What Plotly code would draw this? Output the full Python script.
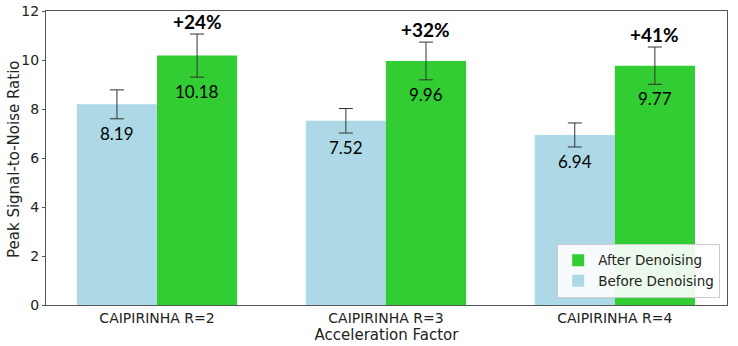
import plotly.graph_objects as go

categories = ["CAIPIRINHA R=2", "CAIPIRINHA R=3", "CAIPIRINHA R=4"]
before_vals = [8.19, 7.52, 6.94]
after_vals = [10.18, 9.96, 9.77]
before_err = [0.59, 0.50, 0.49]
after_err = [0.88, 0.77, 0.76]
improve_labels = ["+24%", "+32%", "+41%"]
y_ticks = [0, 2, 4, 6, 8, 10, 12]

BLUE = "#add8e6"
GREEN = "#32cd32"
FONT = "DejaVu Sans"
AFONT = "Lato"

xi = list(range(len(categories)))
w = 0.35

fig = go.Figure()
fig.add_trace(go.Bar(
    x=[i - w / 2 for i in xi], y=before_vals, width=w, name="Before Denoising",
    marker=dict(color=BLUE, line=dict(width=0)),
    error_y=dict(type="data", array=before_err, color="#333333", thickness=1, width=7),
))
fig.add_trace(go.Bar(
    x=[i + w / 2 for i in xi], y=after_vals, width=w, name="After Denoising",
    marker=dict(color=GREEN, line=dict(width=0)),
    error_y=dict(type="data", array=after_err, color="#333333", thickness=1, width=7),
))

ann = []
for i in xi:
    ann.append(dict(x=i - w / 2, y=before_vals[i] - before_err[i] - 0.08, text=f"{before_vals[i]:.2f}",
                    showarrow=False, yanchor="top", xanchor="center",
                    font=dict(family=AFONT, size=17, color="black")))
    ann.append(dict(x=i + w / 2, y=after_vals[i] - after_err[i] - 0.08, text=f"{after_vals[i]:.2f}",
                    showarrow=False, yanchor="top", xanchor="center",
                    font=dict(family=AFONT, size=17, color="black")))
    ann.append(dict(x=i + w / 2, y=after_vals[i] + after_err[i] - 0.04, text=f"<b>{improve_labels[i]}</b>",
                    showarrow=False, yanchor="bottom", xanchor="center",
                    font=dict(family=AFONT, size=19, color="black")))

# y-axis title placed as a rotated annotation left of the tick labels
ann.append(dict(xref="paper", yref="paper", x=0, y=0.5, xshift=-32, yshift=-1, textangle=-90,
                text="Peak Signal-to-Noise Ratio", showarrow=False,
                xanchor="center", yanchor="middle",
                font=dict(family=FONT, size=15, color="#222222")))

fig.update_layout(
    width=738, height=346,
    margin=dict(l=46, r=11, t=11, b=41),
    plot_bgcolor="white", paper_bgcolor="white",
    barmode="overlay",
    font=dict(family=FONT, size=13, color="#222222"),
    annotations=ann,
    showlegend=True,
    legend=dict(x=0.99, y=0.024, xanchor="right", yanchor="bottom",
                traceorder="reversed", bgcolor="rgba(255,255,255,0.9)",
                bordercolor="#cccccc", borderwidth=1, tracegroupgap=0,
                font=dict(family=FONT, size=13.5, color="#222222")),
    xaxis=dict(
        tickmode="array", tickvals=xi, ticktext=categories, automargin=False,
        range=[-0.485, 2.49], showline=True, linecolor="#555555", linewidth=1, mirror=True,
        ticks="", showgrid=False,
        title=dict(text="Acceleration Factor", font=dict(family=FONT, size=15), standoff=0),
        tickfont=dict(family=FONT, size=14),
    ),
    yaxis=dict(
        range=[0, 12], tickvals=y_ticks, showline=True, linecolor="#555555", linewidth=1, mirror=True,
        automargin=False,
        ticks="outside", ticklen=3, tickcolor="#555555", showgrid=False, zeroline=False,
        tickfont=dict(family=FONT, size=14),
    ),
)

# remove the default 8px page margin so the figure fills the 738x346 window
fig.write_html("out.html", config={"displayModeBar": False},
               post_script="document.body.style.margin='0';document.body.style.overflow='hidden';")
